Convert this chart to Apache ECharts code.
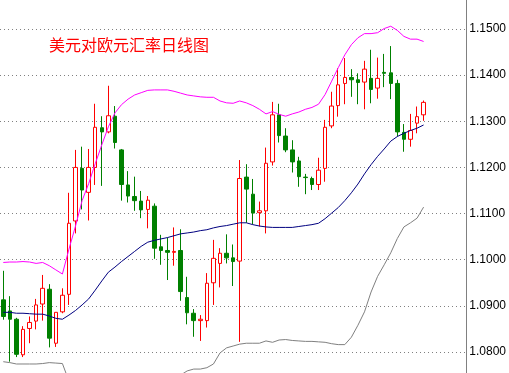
<!DOCTYPE html>
<html>
<head>
<meta charset="utf-8">
<script src="https://cdn.jsdelivr.net/npm/echarts@6/dist/echarts.min.js"></script>
<style>
html,body{margin:0;padding:0;background:#ffffff;}
#c{width:509px;height:373px;}
</style>
</head>
<body>
<div id="c"></div>
<script>
const chartTitle = '美元对欧元汇率日线图';

const opens = [1.0913,1.0889,1.0871,1.0794,1.0851,1.0867,1.0904,1.0936,1.0819,1.0887,
1.0925,1.1084,1.1198,1.1146,1.1200,1.1286,1.1277,1.1311,1.1238,1.1162,
1.1137,1.1127,1.1109,1.1116,1.1028,1.1020,1.1016,1.1020,1.0918,1.0884,
1.0868,1.0868,1.0950,1.0992,1.1014,1.1004,1.0997,1.1179,1.1142,1.1102,
1.1106,1.1212,1.1314,1.1268,1.1238,1.1214,1.1179,1.1176,1.1163,1.1198,
1.1290,1.1334,1.1382,1.1395,1.1390,1.1385,1.1393,1.1372,1.1406,1.1405,
1.1382,1.1276,1.1261,1.1296,1.1314];

const closes = [1.0877,1.0871,1.0795,1.0849,1.0864,1.0902,1.0938,1.0830,1.0886,1.0923,
1.1079,1.1200,1.1151,1.1200,1.1287,1.1277,1.1312,1.1254,1.1163,1.1138,
1.1128,1.1108,1.1129,1.1025,1.1020,1.1016,1.1018,1.0931,1.0885,1.0868,
1.0871,1.0949,1.1003,1.1014,1.1004,1.0996,1.1176,1.1153,1.1101,1.1106,
1.1209,1.1314,1.1269,1.1238,1.1212,1.1180,1.1178,1.1163,1.1194,1.1287,
1.1333,1.1379,1.1395,1.1390,1.1384,1.1413,1.1369,1.1393,1.1404,1.1382,
1.1277,1.1261,1.1280,1.1310,1.1341];

const lows = [1.0870,1.0779,1.0789,1.0789,1.0819,1.0849,1.0868,1.0810,1.0811,1.0884,
1.0902,1.1057,1.1109,1.1085,1.1162,1.1160,1.1274,1.1241,1.1128,1.1124,
1.1106,1.1090,1.1068,1.1002,1.0989,1.0956,1.0987,1.0911,1.0860,1.0833,
1.0824,1.0853,1.0902,1.0940,1.0992,1.0943,1.0822,1.1080,1.1077,1.1072,
1.1057,1.1204,1.1254,1.1233,1.1189,1.1158,1.1142,1.1151,1.1151,1.1169,
1.1285,1.1310,1.1337,1.1353,1.1337,1.1326,1.1339,1.1349,1.1374,1.1348,
1.1267,1.1234,1.1245,1.1274,1.1301];

const highs = [1.0976,1.0921,1.0874,1.0856,1.0877,1.0915,1.0967,1.0947,1.0886,1.0938,
1.1145,1.1238,1.1245,1.1240,1.1338,1.1311,1.1377,1.1333,1.1240,1.1192,
1.1180,1.1149,1.1138,1.1122,1.1054,1.1048,1.1070,1.1066,1.0963,1.0893,
1.0880,1.0971,1.1043,1.1025,1.1055,1.1033,1.1216,1.1207,1.1175,1.1126,
1.1243,1.1342,1.1338,1.1285,1.1259,1.1223,1.1186,1.1180,1.1221,1.1303,
1.1364,1.1415,1.1437,1.1413,1.1404,1.1431,1.1455,1.1438,1.1446,1.1463,
1.1390,1.1294,1.1316,1.1332,1.1345];

const upperBand = [1.0994,1.0995,1.0995,1.0996,1.0995,1.0992,1.0994,1.0987,1.0978,1.0969,
1.1023,1.1073,1.1128,1.1165,1.1208,1.1249,1.1288,1.1318,1.1336,1.1348,
1.1357,1.1362,1.1367,1.1368,1.1368,1.1368,1.1365,1.1361,1.1357,1.1355,
1.1353,1.1352,1.1352,1.1344,1.1340,1.1339,1.1344,1.1340,1.1334,1.1326,
1.1316,1.1321,1.1315,1.1311,1.1316,1.1320,1.1326,1.1330,1.1337,1.1358,
1.1387,1.1416,1.1444,1.1466,1.1481,1.1490,1.1490,1.1492,1.1501,1.1506,
1.1497,1.1484,1.1478,1.1478,1.1473];

const middleBand = [1.0886,1.0886,1.0884,1.0884,1.0883,1.0882,1.0882,1.0878,1.0873,1.0871,
1.0880,1.0890,1.0902,1.0915,1.0934,1.0954,1.0973,1.0984,1.0996,1.1007,
1.1018,1.1029,1.1038,1.1042,1.1045,1.1048,1.1052,1.1056,1.1058,1.1060,
1.1063,1.1065,1.1069,1.1072,1.1074,1.1077,1.1080,1.1080,1.1076,1.1073,
1.1071,1.1070,1.1070,1.1070,1.1070,1.1072,1.1074,1.1076,1.1079,1.1089,
1.1101,1.1113,1.1128,1.1145,1.1164,1.1186,1.1206,1.1224,1.1240,1.1257,
1.1267,1.1274,1.1280,1.1285,1.1292];

const lowerBand = [1.0779,1.0777,1.0774,1.0774,1.0774,1.0774,1.0775,1.0777,1.0776,1.0775,
1.0737,1.0707,1.0675,1.0665,1.0661,1.0659,1.0659,1.0650,1.0656,1.0666,
1.0679,1.0695,1.0710,1.0715,1.0722,1.0728,1.0740,1.0750,1.0759,1.0763,
1.0763,1.0766,1.0774,1.0798,1.0809,1.0813,1.0817,1.0819,1.0819,1.0819,
1.0824,1.0821,1.0826,1.0827,1.0825,1.0824,1.0823,1.0823,1.0822,1.0821,
1.0818,1.0816,1.0816,1.0832,1.0858,1.0887,1.0930,1.0964,1.0989,1.1015,
1.1046,1.1071,1.1080,1.1090,1.1114];

const yMin = 1.08, yMax = 1.15, yStep = 0.01;
const slotCount = 71;
const categories = Array.from({length: slotCount}, (_, i) => 'D' + (i + 1));
const candles = opens.map((o, i) => [o, closes[i], lows[i], highs[i]]);

const chart = echarts.init(document.getElementById('c'), null, {renderer: 'canvas'});
const lineBase = {type: 'line', symbol: 'none', showSymbol: false, clip: false, silent: true, z: 3};
chart.setOption({
  animation: false,
  backgroundColor: '#ffffff',
  title: {
    text: chartTitle, left: 44, top: 32,
    textStyle: {color: '#ff0000', fontSize: 16, fontWeight: 'normal', fontFamily: 'Noto Sans CJK SC'}
  },
  grid: [
    {left: -2.3, right: 42.7, top: 29, bottom: 21},
    {left: -2.3, right: 42.7, top: 0, bottom: 0}
  ],
  xAxis: [
    {type: 'category', gridIndex: 0, data: categories, show: false, boundaryGap: true},
    {type: 'category', gridIndex: 1, data: categories, show: false}
  ],
  yAxis: [
    {
      type: 'value', gridIndex: 0, position: 'right', min: yMin, max: yMax, interval: yStep,
      axisLine: {show: false}, axisTick: {show: false},
      splitLine: {show: true, lineStyle: {color: '#808080', type: [1, 3], width: 1}},
      axisLabel: {
        formatter: v => v.toFixed(4), color: '#000000', fontSize: 12,
        fontFamily: 'Liberation Sans, Arial, sans-serif', margin: 3,
        verticalAlign: 'middle', padding: [6, 0, 0, 0]
      }
    },
    {
      type: 'value', gridIndex: 1, position: 'right',
      axisLine: {show: true, lineStyle: {color: '#808080', width: 1}},
      axisTick: {show: false}, axisLabel: {show: false}, splitLine: {show: false}
    }
  ],
  series: [
    {
      type: 'candlestick', xAxisIndex: 0, yAxisIndex: 0, data: candles, barWidth: 4, clip: false,
      itemStyle: {color: '#ffffff', color0: '#008000', borderColor: '#ff0000', borderColor0: '#008000', borderWidth: 1}
    },
    Object.assign({}, lineBase, {data: upperBand, lineStyle: {color: '#ff00ff', width: 1}}),
    Object.assign({}, lineBase, {data: middleBand, lineStyle: {color: '#000080', width: 1}}),
    Object.assign({}, lineBase, {data: lowerBand, lineStyle: {color: '#808080', width: 1}})
  ]
});
</script>
</body>
</html>
